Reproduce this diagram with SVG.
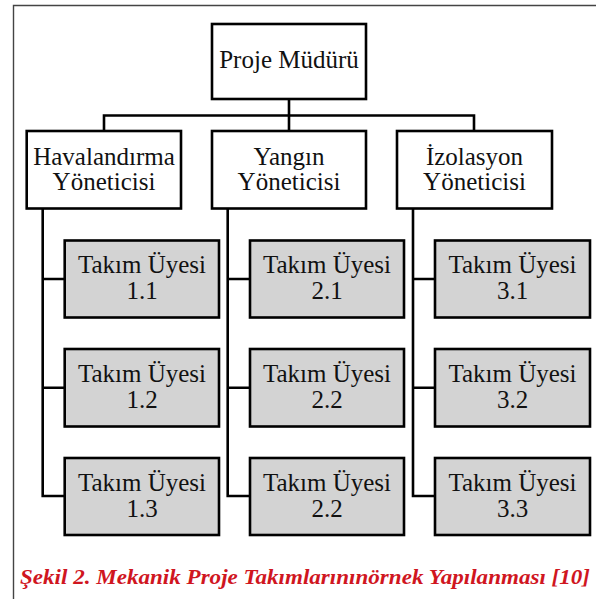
<svg xmlns="http://www.w3.org/2000/svg" width="596" height="599" viewBox="0 0 596 599">
<style>
.box{fill:#fff;stroke:#000;stroke-width:2.6}
.mem{fill:#d3d3d3;stroke:#000;stroke-width:2.6}
.t{font-size:25px;fill:#111;text-anchor:middle}
.c{fill:none;stroke:#000;stroke-width:2.6}
.cap{font-size:22px;font-weight:bold;font-style:italic;fill:#d0161f}
</style>
<rect width="596" height="599" fill="#fff"/>
<path d="M13.5 599 V5.5 H596" fill="none" stroke="#444" stroke-width="1.4"/>
<g id="connectors">
<path class="c" d="M289 99 V131 M104 131 V115.5 H474 V131"/>
<path class="c" d="M42.7 208.5 V496 H64.7 M42.7 279 H64.7 M42.7 387.7 H64.7"/>
<path class="c" d="M227.7 208.5 V496 H250 M227.7 279 H250 M227.7 387.7 H250"/>
<path class="c" d="M413 208.5 V496 H435 M413 279 H435 M413 387.7 H435"/>
</g>
<g font-family="Liberation Serif, Times New Roman, serif">
<g id="proje"><rect class="box" x="212" y="24" width="154" height="75"/><text class="t" x="289" y="68">Proje Müdürü</text></g>
<g id="havalandirma"><rect class="box" x="26.7" y="131" width="154.3" height="77.5"/><text class="t" x="104" y="165">Havalandırma</text><text class="t" x="104" y="190">Yöneticisi</text></g>
<g id="yangin"><rect class="box" x="212" y="131" width="154" height="77.5"/><text class="t" x="289" y="165">Yangın</text><text class="t" x="289" y="190">Yöneticisi</text></g>
<g id="izolasyon"><rect class="box" x="397" y="131" width="155" height="77.5"/><text class="t" x="474.5" y="165">İzolasyon</text><text class="t" x="474.5" y="190">Yöneticisi</text></g>
<g id="m11"><rect class="mem" x="64.7" y="240.5" width="154.3" height="77"/><text class="t" x="142" y="273">Takım Üyesi</text><text class="t" x="142" y="299">1.1</text></g>
<g id="m12"><rect class="mem" x="64.7" y="349" width="154.3" height="77.5"/><text class="t" x="142" y="382">Takım Üyesi</text><text class="t" x="142" y="408">1.2</text></g>
<g id="m13"><rect class="mem" x="64.7" y="458" width="154.3" height="77"/><text class="t" x="142" y="491">Takım Üyesi</text><text class="t" x="142" y="517">1.3</text></g>
<g id="m21"><rect class="mem" x="250" y="240.5" width="154" height="77"/><text class="t" x="327" y="273">Takım Üyesi</text><text class="t" x="327" y="299">2.1</text></g>
<g id="m22"><rect class="mem" x="250" y="349" width="154" height="77.5"/><text class="t" x="327" y="382">Takım Üyesi</text><text class="t" x="327" y="408">2.2</text></g>
<g id="m23"><rect class="mem" x="250" y="458" width="154" height="77"/><text class="t" x="327" y="491">Takım Üyesi</text><text class="t" x="327" y="517">2.2</text></g>
<g id="m31"><rect class="mem" x="435" y="240.5" width="155" height="77"/><text class="t" x="512.5" y="273">Takım Üyesi</text><text class="t" x="512.5" y="299">3.1</text></g>
<g id="m32"><rect class="mem" x="435" y="349" width="155" height="77.5"/><text class="t" x="512.5" y="382">Takım Üyesi</text><text class="t" x="512.5" y="408">3.2</text></g>
<g id="m33"><rect class="mem" x="435" y="458" width="155" height="77"/><text class="t" x="512.5" y="491">Takım Üyesi</text><text class="t" x="512.5" y="517">3.3</text></g>
<text class="cap" x="20" y="584" textLength="570" lengthAdjust="spacingAndGlyphs">Şekil 2. Mekanik Proje Takımlarınınörnek Yapılanması [10]</text>
</g>
</svg>
